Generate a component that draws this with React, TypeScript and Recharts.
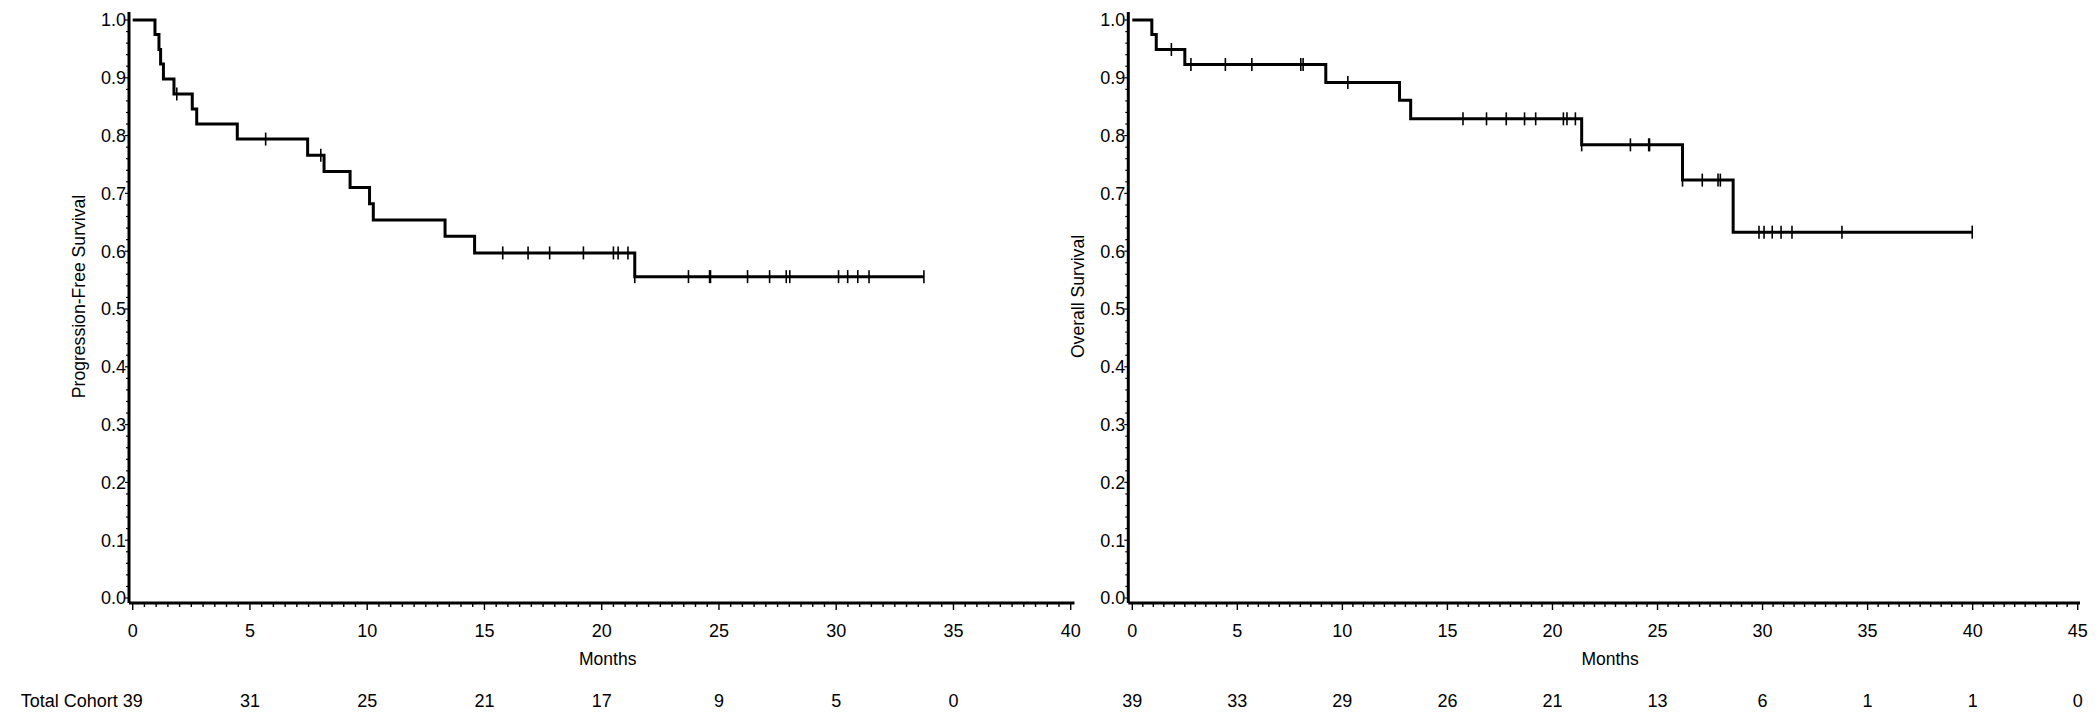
import React from "react";
import { ComposedChart, Line, Scatter, XAxis, YAxis, Label } from "recharts";

const FONT = '"Liberation Sans", Arial, Helvetica, sans-serif';

// Progression-free survival: months where the curve steps down, survival after the step
const pfsTimes = [0, 0.95, 1.12, 1.19, 1.31, 1.76, 2.54, 2.73, 4.46, 7.46, 8.16, 9.27, 10.1, 10.26, 13.32, 14.58, 21.41];
const pfsSurv = [1, 0.975, 0.949, 0.924, 0.898, 0.872, 0.846, 0.82, 0.794, 0.766, 0.738, 0.71, 0.682, 0.654, 0.626, 0.597, 0.556];
const pfsEnd = 33.74;
const pfsCensored = [
  1.88, 5.67, 8.02, 15.78, 16.86, 17.78, 19.22, 20.5, 20.7, 21.12, 21.41, 23.7, 24.6, 24.64,
  26.22, 27.16, 27.87, 28.02, 30.1, 30.49, 30.92, 31.4, 33.74,
];

// Overall survival
const osTimes = [0, 0.93, 1.14, 2.5, 9.21, 12.72, 13.25, 21.39, 26.19, 28.6];
const osSurv = [1, 0.975, 0.949, 0.923, 0.892, 0.861, 0.829, 0.784, 0.723, 0.633];
const osEnd = 39.98;
const osCensored = [
  1.86, 2.79, 4.43, 5.69, 8.02, 8.13, 10.26, 15.74, 16.86, 17.8, 18.67, 19.2, 20.52, 20.69, 21.09,
  21.39, 23.71, 24.58, 24.62, 26.19, 27.13, 27.88, 27.99, 29.83, 30.07, 30.46, 30.88, 31.4, 33.78, 39.98,
];

// numbers at risk
const pfsRiskMonths = [0, 5, 10, 15, 20, 25, 30, 35];
const pfsAtRisk = [39, 31, 25, 21, 17, 9, 5, 0];
const osRiskMonths = [0, 5, 10, 15, 20, 25, 30, 35, 40, 45];
const osAtRisk = [39, 33, 29, 26, 21, 13, 6, 1, 1, 0];

// axis ticks
const pfsMonthTicks = [0, 5, 10, 15, 20, 25, 30, 35, 40];
const osMonthTicks = [0, 5, 10, 15, 20, 25, 30, 35, 40, 45];

const halfMonthTicks = (max: number) => {
  const out: number[] = [];
  for (let k = 0; k <= max * 2; k++) out.push(k / 2);
  return out;
};
const survTicks: number[] = [];
for (let k = 0; k <= 50; k++) survTicks.push(k / 50);

const stepLine = (times: number[], surv: number[], end: number) => {
  const pts = times.map((t, i) => ({ t, s: surv[i] }));
  pts.push({ t: end, s: surv[surv.length - 1] });
  return pts;
};

const censorPoints = (times: number[], surv: number[], censored: number[]) =>
  censored.map((t) => {
    let s = surv[0];
    times.forEach((tt, i) => {
      if (tt <= t + 1e-9) s = surv[i];
    });
    return { t, s };
  });

const MonthTick = (props: any) => {
  const { x, y, payload, majors, riskMonths, risk, cohort } = props;
  const v = payload.value;
  const isMajor = majors.some((m: number) => Math.abs(m - v) < 1e-6);
  const ri = riskMonths.findIndex((m: number) => Math.abs(m - v) < 1e-6);
  return (
    <g>
      <line x1={x} x2={x} y1={y} y2={y + (isMajor ? 7 : 4)} stroke="#000" strokeWidth={1.4} />
      {isMajor && (
        <text x={x} y={y + 33.5} textAnchor="middle" fontSize={18} fontFamily={FONT} fill="#000">
          {v}
        </text>
      )}
      {ri >= 0 && (
        <text x={x} y={y + 103.5} textAnchor="middle" fontSize={18} fontFamily={FONT} fill="#000">
          {risk[ri]}
        </text>
      )}
      {cohort && v === 0 && (
        <text x={x - 15} y={y + 103.5} textAnchor="end" fontSize={18} fontFamily={FONT} fill="#000">
          Total Cohort
        </text>
      )}
    </g>
  );
};

const SurvTick = (props: any) => {
  const { x, y, payload } = props;
  const k = Math.round(payload.value * 50);
  const major = k % 5 === 0;
  return (
    <g>
      <line x1={x} x2={x - (major ? 4 : 3)} y1={y} y2={y} stroke="#000" strokeWidth={1.2} />
      {major && (
        <text x={x - 3} y={y} dy="0.36em" textAnchor="end" fontSize={18} fontFamily={FONT} fill="#000">
          {(k / 50).toFixed(1)}
        </text>
      )}
    </g>
  );
};

const CensorMark = (p: any) => (
  <line x1={p.cx} x2={p.cx} y1={p.cy - 6.5} y2={p.cy + 6.5} stroke="#000" strokeWidth={1.6} />
);

function KMPanel({
  width,
  marginLeft,
  marginRight,
  maxMonth,
  padLeft,
  padRight,
  times,
  surv,
  end,
  censored,
  majors,
  riskMonths,
  risk,
  cohort,
  yTitle,
}: any) {
  const line = stepLine(times, surv, end);
  const marks = censorPoints(times, surv, censored);
  return (
    <ComposedChart
      width={width}
      height={725}
      margin={{ top: 12, right: marginRight, bottom: 0, left: marginLeft }}
    >
      <XAxis
        dataKey="t"
        type="number"
        domain={[0, maxMonth]}
        ticks={halfMonthTicks(maxMonth)}
        interval={0}
        padding={{ left: padLeft, right: padRight }}
        height={122}
        tickSize={0}
        tickMargin={0}
        tickLine={false}
        axisLine={{ stroke: "#000", strokeWidth: 3 }}
        tick={(p: any) => (
          <MonthTick {...p} majors={majors} riskMonths={riskMonths} risk={risk} cohort={cohort} />
        )}
      >
        <Label
          content={(lp: any) => {
            const vb = lp.viewBox || { x: 0, y: 0, width: 0 };
            return (
              <text
                x={vb.x + vb.width / 2 + 6}
                y={vb.y + 62}
                textAnchor="middle"
                fontSize={17.5}
                fontFamily={FONT}
                fill="#000"
              >
                Months
              </text>
            );
          }}
        />
      </XAxis>
      <YAxis
        type="number"
        domain={[0, 1]}
        ticks={survTicks}
        interval={0}
        width={60}
        padding={{ top: 8, bottom: 5 }}
        tickSize={0}
        tickMargin={0}
        tickLine={false}
        axisLine={{ stroke: "#000", strokeWidth: 3 }}
        tick={(p: any) => <SurvTick {...p} />}
      >
        <Label
          content={(lp: any) => {
            const vb = lp.viewBox || { x: 0, y: 0, width: 0, height: 0 };
            const cx = vb.x + vb.width - 50;
            const cy = vb.y + vb.height / 2 - 11;
            return (
              <text
                x={cx}
                y={cy}
                transform={`rotate(-90, ${cx}, ${cy})`}
                textAnchor="middle"
                dominantBaseline="central"
                fontSize={17.6}
                fontFamily={FONT}
                fill="#000"
              >
                {yTitle}
              </text>
            );
          }}
        />
      </YAxis>
      <Line
        data={line}
        dataKey="s"
        type="stepAfter"
        stroke="#000"
        strokeWidth={3}
        dot={false}
        activeDot={false}
        isAnimationActive={false}
      />
      <Scatter data={marks} dataKey="s" shape={CensorMark} isAnimationActive={false} />
    </ComposedChart>
  );
}

export default function App() {
  return (
    <div
      style={{
        position: "relative",
        width: 2100,
        height: 725,
        background: "#fff",
        fontFamily: FONT,
        overflow: "hidden",
      }}
    >
      <style>{"body{margin:0}"}</style>
      <div style={{ position: "absolute", left: 0, top: 0 }}>
        <KMPanel
          width={1085}
          marginLeft={69}
          marginRight={10.5}
          maxMonth={40}
          padLeft={3.7}
          padRight={3.8}
          times={pfsTimes}
          surv={pfsSurv}
          end={pfsEnd}
          censored={pfsCensored}
          majors={pfsMonthTicks}
          riskMonths={pfsRiskMonths}
          risk={pfsAtRisk}
          cohort={true}
          yTitle="Progression-Free Survival"
        />
      </div>
      <div style={{ position: "absolute", left: 1040, top: 0 }}>
        <KMPanel
          width={1060}
          marginLeft={28.3}
          marginRight={20}
          maxMonth={45}
          padLeft={4}
          padRight={2.3}
          times={osTimes}
          surv={osSurv}
          end={osEnd}
          censored={osCensored}
          majors={osMonthTicks}
          riskMonths={osRiskMonths}
          risk={osAtRisk}
          cohort={false}
          yTitle="Overall Survival"
        />
      </div>
    </div>
  );
}
